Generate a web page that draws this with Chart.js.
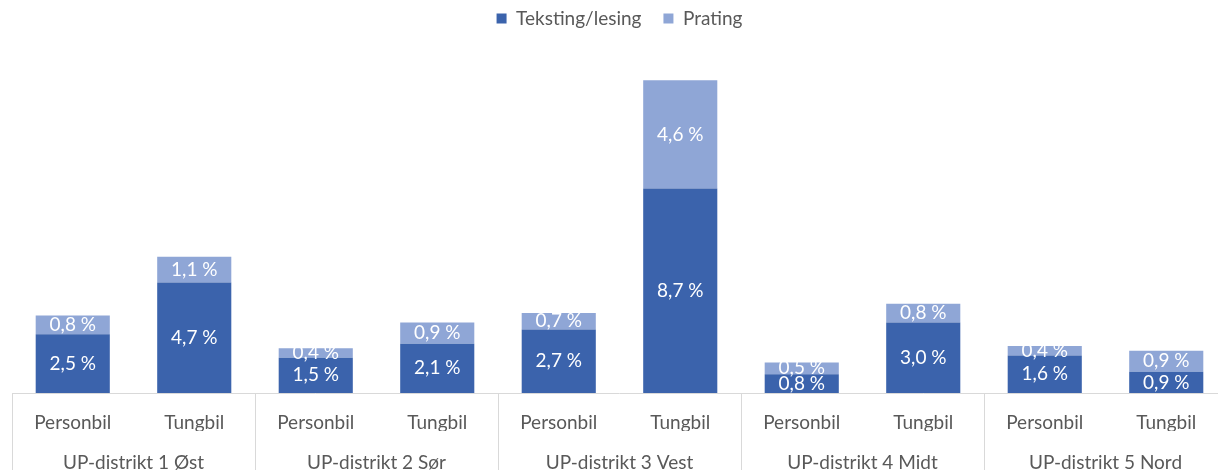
<!DOCTYPE html>
<html lang="no">
<head>
  <meta charset="UTF-8" />
  <title>Mobilbruk per UP-distrikt</title>
  <script src="https://cdn.jsdelivr.net/npm/chart.js"></script>
  <style>
    body { margin: 0; background: #fff; overflow: hidden; }
    #wrap { width: 1250px; height: 470px; }
  </style>
</head>
<body>
  <div id="wrap"><canvas id="chart" width="1250" height="470"></canvas></div>

<script>
  // data lest av fra figuren
  const distrikter = ['UP-distrikt 1 Øst', 'UP-distrikt 2 Sør', 'UP-distrikt 3 Vest', 'UP-distrikt 4 Midt', 'UP-distrikt 5 Nord'];
  const kjoretoy = ['Personbil', 'Tungbil'];
  const teksting = [2.5, 4.7, 1.5, 2.1, 2.7, 8.7, 0.8, 3.0, 1.6, 0.9];
  const prating  = [0.8, 1.1, 0.4, 0.9, 0.7, 4.6, 0.5, 0.8, 0.4, 0.9];

  const labels = distrikter.flatMap(() => kjoretoy);
  const FONT = 'Lato, "Noto Sans", sans-serif';
  const GREY = '#595959';

  // verdier inni søylene
  const verdiPlugin = {
    id: 'verdier',
    afterDatasetsDraw(chart) {
      const ctx = chart.ctx;
      ctx.save();
      ctx.font = '19px ' + FONT;
      ctx.fillStyle = '#fff';
      ctx.textAlign = 'center';
      ctx.textBaseline = 'middle';
      chart.data.datasets.forEach((ds, di) => {
        chart.getDatasetMeta(di).data.forEach((bar, i) => {
          const txt = ds.data[i].toFixed(1).replace('.', ',') + '\u202F%';
          ctx.fillText(txt, bar.x, (bar.y + bar.base) / 2);
        });
      });
      ctx.restore();
    }
  };

  // rammen rundt kategoriaksen
  const rammePlugin = {
    id: 'ramme',
    afterDraw(chart) {
      const ctx = chart.ctx;
      const a = chart.chartArea;
      const w = a.width / distrikter.length;
      ctx.save();
      ctx.strokeStyle = '#d9d9d9';
      ctx.lineWidth = 1;
      ctx.beginPath();
      ctx.moveTo(a.left, Math.round(a.bottom) + 0.5);
      ctx.lineTo(a.right, Math.round(a.bottom) + 0.5);
      for (let i = 0; i <= distrikter.length; i++) {
        const x = Math.round(a.left + i * w) + 0.5;
        ctx.moveTo(x, a.bottom);
        ctx.lineTo(x, chart.height);
      }
      ctx.stroke();
      ctx.restore();
    }
  };

  const tickFont = { family: FONT, size: 19, lineHeight: 1.2 };

  new Chart(document.getElementById('chart'), {
    type: 'bar',
    data: {
      labels: labels,
      datasets: [
        { label: 'Teksting/lesing', data: teksting, backgroundColor: '#3b63ac', xAxisID: 'x' },
        { label: 'Prating', data: prating, backgroundColor: '#8fa6d6', xAxisID: 'x' }
      ]
    },
    options: {
      responsive: false,
      animation: false,
      devicePixelRatio: 1,
      categoryPercentage: 1,
      barPercentage: 0.61,
      layout: { padding: { left: 12, right: 23, top: -13, bottom: 0 } },
      plugins: {
        legend: {
          position: 'top',
          labels: { boxWidth: 10, boxHeight: 10, padding: 22, color: GREY, font: { family: FONT, size: 19 } }
        },
        tooltip: { enabled: false }
      },
      scales: {
        x: {
          stacked: true,
          grid: { display: false, drawTicks: false, tickLength: 0 },
          border: { display: false },
          ticks: { color: GREY, padding: 18, font: tickFont, maxRotation: 0, autoSkip: false },
          afterFit: s => { s.height = 38; }
        },
        x2: {
          type: 'category',
          labels: distrikter,
          position: 'bottom',
          offset: true,
          grid: { display: false, drawTicks: false, tickLength: 0 },
          border: { display: false },
          ticks: { color: GREY, padding: 20, font: tickFont, maxRotation: 0, autoSkip: false },
          afterFit: s => { s.height = 39; }
        },
        y: {
          stacked: true,
          display: false,
          min: 0,
          max: 15.1
        }
      }
    },
    plugins: [verdiPlugin, rammePlugin]
  });
</script>
</body>
</html>
